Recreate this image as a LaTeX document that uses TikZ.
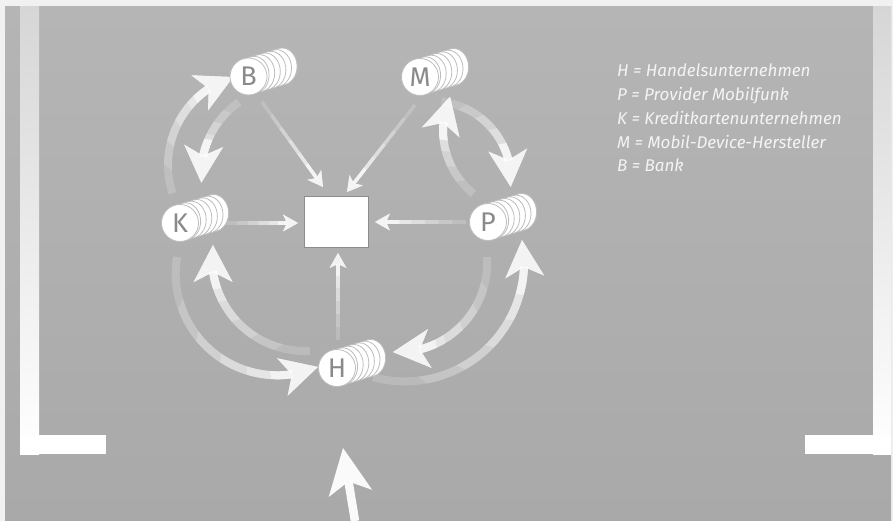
\documentclass[tikz,border=0pt]{standalone}
\usepackage{fontspec}
\setmainfont{Fira Sans}
\usetikzlibrary{arrows.meta,bending,calc}
\definecolor{bgtop}{HTML}{B5B5B5}
\definecolor{bgbot}{HTML}{A9A9A9}
\definecolor{frame}{HTML}{F1F1F1}
\definecolor{bartop}{HTML}{D6D6D6}
\definecolor{coinedge}{HTML}{BDBDBD}
\definecolor{lettergray}{HTML}{8A8A8A}
\definecolor{boxedge}{HTML}{8C8C8C}
\definecolor{legendtext}{HTML}{F4F4F4}
\tikzset{
  bigarrow/.style={draw=white, line width=8pt, -{Stealth[length=37pt,width=39pt,inset=10pt,flex=1,line width=0pt]}},
  thinarrow/.style={draw=white, line width=3.5pt, -{Stealth[length=15pt,width=17pt,inset=4pt,line width=0pt]}},
  coin/.style={circle, fill=white, draw=coinedge, line width=0.8pt, minimum size=37pt, inner sep=0pt, text=lettergray, font=\fontsize{27}{27}\selectfont},
  backcoin/.style={fill=white, draw=coinedge, line width=0.8pt},
  legendline/.style={anchor=base west, inner sep=0pt, text=legendtext, font=\itshape\fontsize{17}{20}\selectfont},
}
% #1 style, #2 tip coordinate, #3 path, #4 start-tip distance, #5 minimal radius of the brightest layer
\newcommand\fadedpath[5]{%
  \foreach \fr/\op in {20/0.18, 0.85/0.15, 0.7/0.2, 0.55/0.25, 0.4/0.3, 0.27/0.55}{%
    \pgfmathsetmacro\rr{max(\fr*#4,#5)}%
    \begin{scope}
      \clip (#2) circle[radius=\rr];
      \draw[#1, opacity=\op] #3;
    \end{scope}}}
% #1 name, #2 x, #3 y, #4 letter
\newcommand\coinstack[4]{%
  \foreach \k in {6,5,4,3,2,1}{%
    \path[backcoin] (#2+\k*5.6, #3-\k*1.67) ellipse[x radius=15, y radius=18.5];}
  \node[coin] (#1) at (#2,#3) {#4};}
\begin{document}
\begin{tikzpicture}[x=1pt,y=-1pt]
\useasboundingbox (0,0) rectangle (893,521);
% background and frame
\fill[frame] (0,0) rectangle (893,521);
\shade[top color=bgtop, bottom color=bgbot] (5,7) rectangle (891,521);
\shade[top color=bartop, bottom color=white] (20,7) rectangle (39,454);
\fill[white] (20,435) rectangle (106,454);
\shade[top color=bartop, bottom color=white] (873,7) rectangle (891,454);
\fill[white] (805,435) rectangle (891,454);

% tip coordinates of the thick arrows
\coordinate (t1) at ($(260,165)+(253:92)$);
\coordinate (t2) at ($(290,175)+(175:89)$);
\coordinate (t3) at ($(432,180)+(5:79)$);
\coordinate (t4) at ($(525,130)+(204:82)$);
\coordinate (t5) at ($(305,258)+(188:93)$);
\coordinate (t6) at ($(277.5,273.5)+(66.6:101.8)$);
\coordinate (t7) at ($(397.8,262.8)+(93.1:89.4)$);
\coordinate (t8) at ($(404.9,262.2)+(-10.7:119.2)$);

% thick curved arrows
\fadedpath{bigarrow}{t1}{($(260,165)+(162:92)$) arc[start angle=162,end angle=253,radius=92]}{131}{44}
\fadedpath{bigarrow}{t2}{($(290,175)+(235:89)$) arc[start angle=235,end angle=175,radius=89]}{89}{44}
\fadedpath{bigarrow}{t3}{($(432,180)+(277:79)$) arc[start angle=277,end angle=365,radius=79]}{110}{44}
\fadedpath{bigarrow}{t4}{($(525,130)+(129:82)$) arc[start angle=129,end angle=204,radius=82]}{100}{44}
\fadedpath{bigarrow}{t5}{($(305,258)+(87:93)$) arc[start angle=87,end angle=188,radius=93]}{143}{44}
\fadedpath{bigarrow}{t6}{($(277.5,273.5)+(189.3:101.8)$) arc[start angle=189.3,end angle=66.6,radius=101.8]}{178}{44}
\fadedpath{bigarrow}{t7}{($(397.8,262.8)+(-3.7:89.4)$) arc[start angle=-3.7,end angle=93.1,radius=89.4]}{133}{44}
\fadedpath{bigarrow}{t8}{($(404.9,262.2)+(105.5:119.2)$) arc[start angle=105.5,end angle=-10.7,radius=119.2]}{202}{44}

% centre box
\node[draw=boxedge, fill=white, line width=1pt, minimum width=64pt, minimum height=50pt, inner sep=0pt] (box) at (336,222) {};

% thin arrows into the box
\coordinate (sB) at (262,102); \coordinate (eB) at (323,187);
\coordinate (sM) at (415,105); \coordinate (eM) at (347,192);
\coordinate (sK) at (226,223); \coordinate (eK) at (298,223);
\coordinate (sP) at (466,222); \coordinate (eP) at (375,222);
\coordinate (sH) at (338,340); \coordinate (eH) at (338,253);
\fadedpath{thinarrow}{eB}{(sB) -- (eB)}{104}{20}
\fadedpath{thinarrow}{eM}{(sM) -- (eM)}{110}{20}
\fadedpath{thinarrow}{eK}{(sK) -- (eK)}{72}{20}
\fadedpath{thinarrow}{eP}{(sP) -- (eP)}{91}{20}
\fadedpath{thinarrow}{eH}{(sH) -- (eH)}{87}{20}

% coin stacks
\coinstack{B}{248.5}{76.5}{B}
\coinstack{M}{420}{77}{M}
\coinstack{K}{180}{223}{K}
\coinstack{P}{488}{222}{P}
\coinstack{H}{337}{368}{H}

% bottom arrow
\coordinate (bstart) at (355,521);
\coordinate (btip) at (343,448);
\draw[white, opacity=0.95, line width=8.5pt, -{Stealth[length=46pt,width=44pt,inset=12pt,line width=0pt]}] (bstart) -- (btip);

% legend
\node[legendline] (l1) at (617,77) {H = Handelsunternehmen};
\node[legendline] (l2) at (617,101) {P = Provider Mobilfunk};
\node[legendline] (l3) at (617,125) {K = Kreditkartenunternehmen};
\node[legendline] (l4) at (617,149) {M = Mobil-Device-Hersteller};
\node[legendline] (l5) at (617,172) {B = Bank};
\end{tikzpicture}
\end{document}
